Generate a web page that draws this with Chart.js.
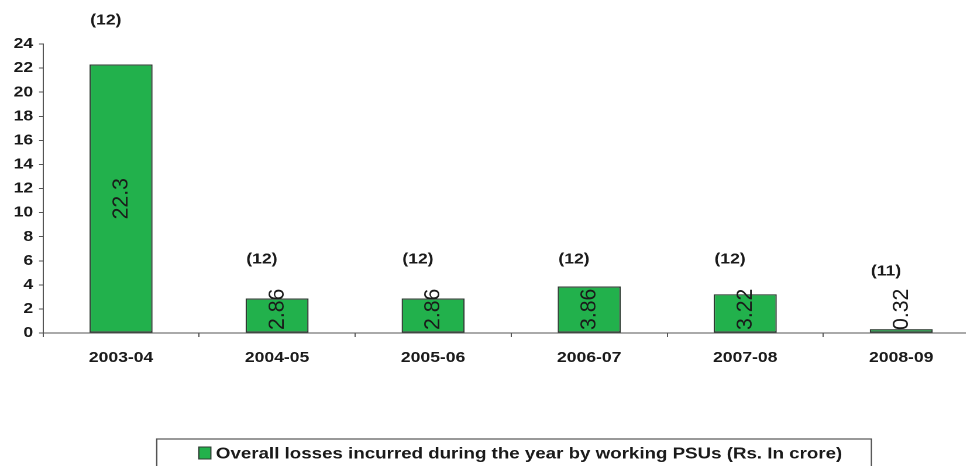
<!DOCTYPE html>
<html>
<head>
<meta charset="utf-8">
<script src="https://cdn.jsdelivr.net/npm/chart.js@4.4.1/dist/chart.umd.min.js"></script>
<style>
  html, body { margin: 0; padding: 0; background: #fff; overflow: hidden; width: 966px; height: 466px; }
  /* the chart is drawn a little narrower and widened horizontally */
  #wrap { position: absolute; left: 0; top: 0; width: 850px; height: 466px; transform: scaleX(1.17); transform-origin: 0 0; }
</style>
</head>
<body>
<div id="wrap"><canvas id="c"></canvas></div>
<script>
// Financial years
const years = ['2003-04', '2004-05', '2005-06', '2006-07', '2007-08', '2008-09'];
// Overall losses of working PSUs (Rs. in crore)
const losses = [22.3, 2.86, 2.86, 3.86, 3.22, 0.32];
// Number of working PSUs incurring losses, shown in brackets
const psuCounts = [12, 12, 12, 12, 12, 11];
// Value axis ticks
const yTicks = [0, 2, 4, 6, 8, 10, 12, 14, 16, 18, 20, 22, 24];
const seriesLabel = 'Overall losses incurred during the year by working PSUs (Rs. In crore)';

const FONT = '"Liberation Sans", Arial, Helvetica, sans-serif';
const INK = '#1a1a1a';
const BAR_FILL = '#22b14c';
const BAR_EDGE = '#2e3b32';
const AXIS = '#555555';

// Rotated value inside each bar, kept clear of the axis line for short bars
const valueLabels = {
  id: 'valueLabels',
  afterDatasetsDraw(chart) {
    const { ctx, scales: { y } } = chart;
    const meta = chart.getDatasetMeta(0);
    const stretch = 1.18;
    const base = y.getPixelForValue(0);
    ctx.save();
    ctx.font = '18px ' + FONT;
    ctx.fillStyle = INK;
    ctx.textAlign = 'center';
    ctx.textBaseline = 'middle';
    meta.data.forEach((bar, i) => {
      const text = String(losses[i]);
      const len = ctx.measureText(text).width * stretch;
      const cy = Math.min((bar.y + base) / 2, base - len / 2 - 3);
      ctx.save();
      ctx.translate(bar.x + 0.5, cy);
      ctx.rotate(-Math.PI / 2);
      ctx.scale(stretch, 1);
      ctx.fillText(text, 0, 0);
      ctx.restore();
    });
    ctx.restore();
  }
};

// Bracketed PSU counts: above a tall bar, otherwise on a shared row
const countLabels = {
  id: 'countLabels',
  afterDatasetsDraw(chart) {
    const { ctx, scales: { y } } = chart;
    const meta = chart.getDatasetMeta(0);
    const rowValue = 6.1;
    const rowY = y.getPixelForValue(rowValue);
    ctx.save();
    ctx.font = 'bold 15px ' + FONT;
    ctx.fillStyle = INK;
    ctx.textAlign = 'center';
    ctx.textBaseline = 'middle';
    meta.data.forEach((bar, i) => {
      const cy = losses[i] > rowValue ? bar.y - 44 : Math.max(rowY, bar.y - 58);
      ctx.fillText('(' + psuCounts[i] + ')', bar.x - 13, cy);
    });
    ctx.restore();
  }
};

// Framed legend below the axis
const framedLegend = {
  id: 'framedLegend',
  afterDraw(chart) {
    const { ctx, chartArea } = chart;
    ctx.save();
    ctx.font = 'bold 16px ' + FONT;
    const tw = ctx.measureText(seriesLabel).width;
    const sqW = 10.3, sqH = 12, gap = 4.3;
    const total = sqW + gap + tw;
    const cx = (chartArea.left + chartArea.right) / 2 + 8;
    const x0 = cx - total / 2;
    const cy = 453;
    // frame
    ctx.strokeStyle = AXIS;
    ctx.lineWidth = 1.2;
    ctx.strokeRect(x0 - 36, 439, total + 36 + 25, 60);
    // swatch
    ctx.fillStyle = BAR_FILL;
    ctx.fillRect(x0, cy - sqH / 2, sqW, sqH);
    ctx.strokeStyle = BAR_EDGE;
    ctx.lineWidth = 1;
    ctx.strokeRect(x0, cy - sqH / 2, sqW, sqH);
    // text
    ctx.fillStyle = INK;
    ctx.textAlign = 'left';
    ctx.textBaseline = 'middle';
    ctx.fillText(seriesLabel, x0 + sqW + gap, cy + 1);
    ctx.restore();
  }
};

new Chart(document.getElementById('c'), {
  type: 'bar',
  data: {
    labels: years,
    datasets: [{
      label: seriesLabel,
      data: losses,
      backgroundColor: BAR_FILL,
      borderColor: BAR_EDGE,
      borderWidth: 1.2,
      borderSkipped: false,
      barPercentage: 0.404,
      categoryPercentage: 1
    }]
  },
  options: {
    responsive: true,
    maintainAspectRatio: false,
    animation: false,
    devicePixelRatio: 2,
    layout: { padding: { top: 44, right: 13, left: 0, bottom: 0 } },
    plugins: { legend: { display: false }, tooltip: { enabled: false } },
    scales: {
      x: {
        grid: { display: true, offset: true, drawOnChartArea: false, drawTicks: true, tickLength: 4, color: AXIS, lineWidth: 1 },
        border: { display: true, color: AXIS, width: 1 },
        ticks: { color: INK, font: { family: FONT, size: 15, weight: 'bold' }, padding: 12, maxRotation: 0 },
        afterFit(scale) { scale.height = 133; }
      },
      y: {
        min: 0,
        max: 24,
        afterBuildTicks(scale) { scale.ticks = yTicks.map(v => ({ value: v })); },
        grid: { display: true, drawOnChartArea: false, drawTicks: true, tickLength: 3.4, color: AXIS, lineWidth: 1 },
        border: { display: true, color: AXIS, width: 1 },
        ticks: { color: INK, font: { family: FONT, size: 15, weight: 'bold' }, padding: 5 },
        afterFit(scale) { scale.width = 36.75; }
      }
    }
  },
  plugins: [valueLabels, countLabels, framedLegend]
});
</script>
</body>
</html>
